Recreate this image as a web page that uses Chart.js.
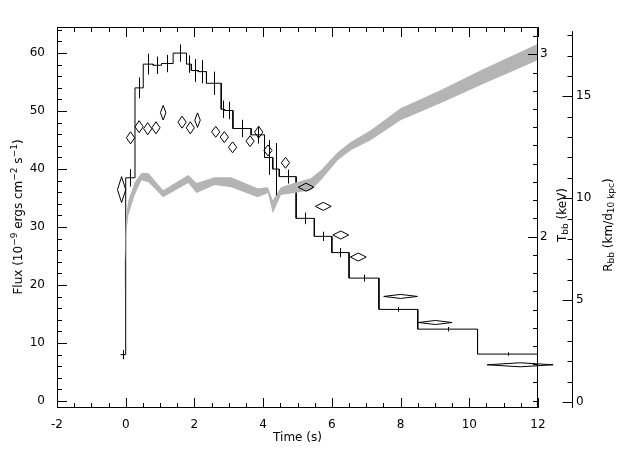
<!DOCTYPE html>
<html><head><meta charset="utf-8">
<script src="https://cdn.jsdelivr.net/npm/chart.js@4"></script>
<style>html,body{margin:0;padding:0;background:#fff}#c{display:block}</style>
</head><body>
<div style="width:640px;height:457px"><canvas id="c" width="640" height="457"></canvas></div>
<script>
// Flux histogram (bin edges, values, errors)
const binEdges = [-0.15,0,0.27,0.51,0.80,1.04,1.38,1.77,1.91,2.11,2.35,2.78,2.88,3.12,3.65,4.04,4.28,4.47,4.96,5.49,6.0,6.5,7.37,8.5,10.24,12];
const fluxValues = [8,38.5,54,58.1,57.9,58.2,60,58.1,57,56.8,54.8,50.3,50.1,47,45.9,42,40,38.7,31.5,28.4,25.6,21.2,15.8,12.4,8.1];
const fluxErrors = [0.8,1.5,1.8,1.8,1.5,1.5,1.5,1.5,2,2,2,1.5,1.5,1.5,1.5,3,4.5,1.2,1,0.8,0.8,0.6,0.4,0.4,0.3];
// Blackbody temperature (diamonds)
const tempTimes = [-0.12,0.14,0.39,0.64,0.88,1.09,1.64,1.88,2.09,2.62,2.87,3.11,3.62,3.87,4.14,4.65,5.25,5.75,6.26,6.77,8.0,9.01,11.48];
const tempValues = [2.258,2.542,2.603,2.592,2.597,2.68,2.628,2.597,2.639,2.575,2.546,2.49,2.524,2.573,2.473,2.405,2.271,2.166,2.009,1.888,1.672,1.529,1.297];
const tempErrors = [0.071,0.033,0.033,0.033,0.033,0.04,0.033,0.033,0.04,0.03,0.03,0.03,0.03,0.033,0.03,0.03,0.022,0.022,0.022,0.022,0.011,0.011,0.011];
const tempHalfWidths = [0.12,0.12,0.12,0.12,0.12,0.08,0.12,0.12,0.08,0.12,0.12,0.12,0.12,0.12,0.12,0.12,0.23,0.23,0.23,0.23,0.49,0.49,0.96];
// Blackbody radius band
const radTimes = [-0.06,0.01,0.08,0.26,0.46,0.66,1.09,1.82,2.06,2.59,3.07,3.84,4.14,4.28,4.52,4.9,5.39,5.68,6.17,6.55,7.13,8.0,9.16,10.32,11.97];
const radLow = [5.0,8.19,9.17,10.15,10.88,10.78,10.05,10.74,10.25,10.64,10.54,10.05,10.25,9.26,10.15,10.25,10.39,10.88,11.86,12.35,12.84,13.82,14.66,15.54,16.75];
const radHigh = [5.24,9.17,9.9,10.78,11.23,11.23,10.39,11.13,10.74,11.03,11.03,10.49,10.54,9.9,10.54,10.74,10.98,11.37,12.25,12.75,13.33,14.41,15.29,16.27,17.55];
const xTicks = [-2,0,2,4,6,8,10,12];
const fluxTicks = [0,10,20,30,40,50,60];
const tempTicks = [2,3];
const radTicks = [0,5,10,15];

const stepData = [];
for(let i=0;i<fluxValues.length;i++){stepData.push({x:binEdges[i],y:fluxValues[i]});stepData.push({x:binEdges[i+1],y:fluxValues[i]});}
const FONT = '12px "DejaVu Sans"';
const SUB = '9px "DejaVu Sans"';
const setTicks = arr => s => { s.ticks = arr.map(v=>({value:v})); };

const drawPlugin = {
  id:'draw',
  afterDatasetsDraw(chart){
    const c = chart.ctx, s = chart.scales, a = chart.chartArea;
    const X=s.x, Y=s.y, T=s.temp, R=s.rad;
    c.save();
    c.strokeStyle='#000'; c.lineWidth=1;
    for(let i=0;i<fluxValues.length;i++){
      const t=(binEdges[i]+binEdges[i+1])/2, px=Math.round(X.getPixelForValue(t))+0.5;
      c.beginPath(); c.moveTo(px,Y.getPixelForValue(fluxValues[i]-fluxErrors[i]));
      c.lineTo(px,Y.getPixelForValue(fluxValues[i]+fluxErrors[i])); c.stroke();
    }
    for(let i=0;i<tempValues.length;i++){
      const t=tempTimes[i], v=tempValues[i], h=tempErrors[i], w=tempHalfWidths[i];
      c.beginPath();
      c.moveTo(X.getPixelForValue(t-w),T.getPixelForValue(v));
      c.lineTo(X.getPixelForValue(t),T.getPixelForValue(v+h));
      c.lineTo(X.getPixelForValue(t+w),T.getPixelForValue(v));
      c.lineTo(X.getPixelForValue(t),T.getPixelForValue(v-h));
      c.closePath(); c.stroke();
    }
    c.beginPath(); c.rect(a.left+0.5,a.top+0.5,a.right-a.left-1,a.bottom-a.top-1); c.stroke();
    const rx=R.left+0.5;
    c.beginPath(); c.moveTo(rx,R.getPixelForValue(18.2)); c.lineTo(rx,a.bottom); c.stroke();
    function vt(scale,min,max,step,len,side){
      for(let v=min; v<=max+1e-9; v+=step){
        const p=Math.round(scale.getPixelForValue(v))+0.5;
        if(p<a.top-0.5||p>a.bottom+0.5) continue;
        c.beginPath();
        if(side==='L'){c.moveTo(a.left,p);c.lineTo(a.left+len,p);}
        else if(side==='Ri'){c.moveTo(a.right,p);c.lineTo(a.right-len,p);}
        else {c.moveTo(rx,p);c.lineTo(rx-len,p);}
        c.stroke();
      }
    }
    function ht(min,max,step,len){
      for(let v=min; v<=max+1e-9; v+=step){
        const p=Math.round(X.getPixelForValue(v))+0.5;
        c.beginPath(); c.moveTo(p,a.bottom); c.lineTo(p,a.bottom-len);
        c.moveTo(p,a.top); c.lineTo(p,a.top+len); c.stroke();
      }
    }
    ht(-2,12,2,10); ht(-2,12,0.5,5);
    vt(Y,0,60,10,10,'L'); vt(Y,0,64,2,5,'L');
    vt(T,2,3,1,10,'Ri'); vt(T,1.1,3.1,0.1,5,'Ri');
    vt(R,0,15,5,10,'R'); vt(R,0,18,1,5,'R');
    c.fillStyle='#000'; c.font=FONT; c.textBaseline='middle';
    c.textAlign='center';
    c.fillText('Time (s)', X.getPixelForValue(5), 438);
    function rot(x,y,parts){
      c.save(); c.translate(x,y); c.rotate(-Math.PI/2);
      let total=0; parts.forEach(p=>{c.font=p[1]?SUB:FONT; total+=c.measureText(p[0]).width;});
      let cx=-total/2; c.textAlign='left';
      parts.forEach(p=>{c.font=p[1]?SUB:FONT; const dy=p[1]==='sup'?-4:(p[1]==='sub'?3:0); c.fillText(p[0],cx,dy); cx+=c.measureText(p[0]).width;});
      c.restore();
    }
    rot(19,217,[['Flux (10'],['−9','sup'],[' ergs cm'],['−2','sup'],[' s'],['−1','sup'],[')']]);
    rot(563,215,[['T'],['bb','sub'],[' (keV)']]);
    rot(609,225,[['R'],['bb','sub'],[' (km/d'],['10 kpc','sub'],[')']]);
    c.restore();
  }
};

const tf = {family:'DejaVu Sans',size:12};
new Chart(document.getElementById('c'),{
  type:'line',
  data:{datasets:[
    {data:radTimes.map((t,i)=>({x:t,y:radLow[i]})),yAxisID:'rad',borderWidth:0,pointRadius:0,fill:false,borderColor:'rgba(0,0,0,0)'},
    {data:radTimes.map((t,i)=>({x:t,y:radHigh[i]})),yAxisID:'rad',borderWidth:0,pointRadius:0,fill:'-1',backgroundColor:'#b4b4b4',borderColor:'rgba(0,0,0,0)'},
    {data:stepData,yAxisID:'y',borderColor:'#000',borderWidth:1,pointRadius:0,fill:false}
  ]},
  options:{
    responsive:false,animation:false,
    layout:{padding:{top:27,bottom:0,left:0,right:0}},
    plugins:{legend:{display:false},tooltip:{enabled:false}},
    scales:{
      x:{type:'linear',min:-2,max:12,grid:{display:false},border:{display:false},
        afterFit(s){s.height=49;}, afterBuildTicks:setTicks(xTicks),
        ticks:{color:'#000',font:tf,padding:2}},
      y:{type:'linear',position:'left',min:-1.2,max:64.5,grid:{display:false},border:{display:false},
        afterFit(s){s.width=57;}, afterBuildTicks:setTicks(fluxTicks),
        ticks:{color:'#000',font:tf,padding:4}},
      temp:{type:'linear',position:'right',min:1.06,max:3.15,grid:{display:false},border:{display:false},
        afterFit(s){s.width=34;}, afterBuildTicks:setTicks(tempTicks),
        ticks:{color:'#000',font:tf,padding:-6}},
      rad:{type:'linear',position:'right',min:-0.3,max:18.4,grid:{display:false},border:{display:false},
        afterFit(s){s.width=68;}, afterBuildTicks:setTicks(radTicks),
        ticks:{color:'#000',font:tf,padding:-4}}
    }
  },
  plugins:[drawPlugin]
});
</script>
</body></html>
